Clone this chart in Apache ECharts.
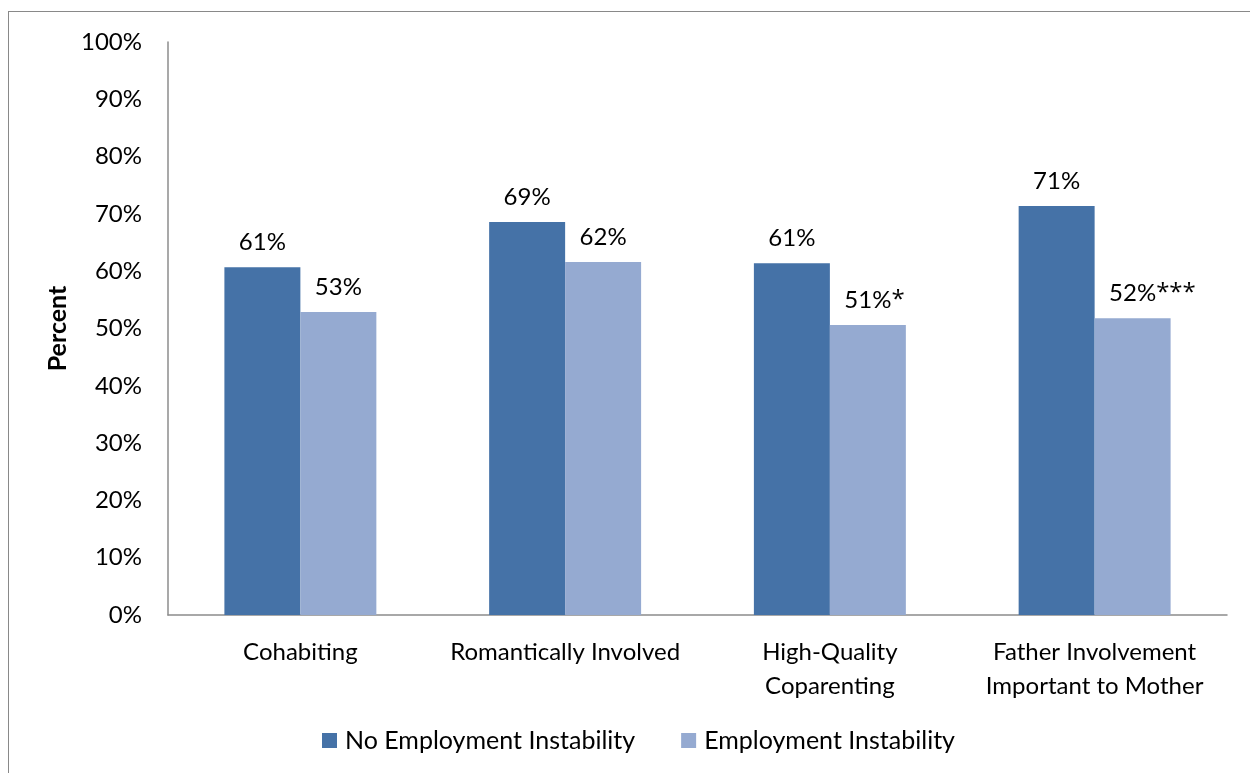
<!DOCTYPE html>
<html><head><meta charset="utf-8">
<script src="https://cdn.jsdelivr.net/npm/echarts@6/dist/echarts.min.js"></script>
<style>
html,body{margin:0;padding:0;background:#fff;}
#frame{position:absolute;left:8px;top:11px;width:1260px;height:780px;border:1.5px solid #898989;box-sizing:border-box;}
#c{position:absolute;left:0;top:0;width:1250px;height:773px;}
</style></head>
<body>
<div id="frame"></div>
<div id="c"></div>
<script>
const categories = ['Cohabiting', 'Romantically Involved', 'High-Quality\nCoparenting', 'Father Involvement\nImportant to Mother'];
const seriesNames = ['No Employment Instability', 'Employment Instability'];
const noInstability = [60.7, 68.6, 61.4, 71.4];
const instability = [52.9, 61.6, 50.6, 51.8];
const noInstabilityLabels = ['61%', '69%', '61%', '71%'];
const instabilityLabels = ['53%', '62%', '51%*', '52%***'];

const font = 'Lato, "Open Sans", sans-serif';
const starFont = '"Open Sans", sans-serif';
const FS = 24;
const ctx = document.createElement('canvas').getContext('2d');
ctx.font = FS + 'px ' + starFont;
function split(lbl) {
  const m = lbl.match(/^(.*?)(\*+)$/);
  return m ? [m[1], m[2]] : [lbl, ''];
}
const chart = echarts.init(document.getElementById('c'));
function mk(vals, labels) {
  return vals.map((v, i) => {
    const [num, stars] = split(labels[i]);
    const shift = stars ? ctx.measureText(stars).width / 2 : 0;
    return {
      value: v,
      label: {
        formatter: stars ? '{n|' + num + '}{s|' + stars + '}' : num,
        offset: [shift, 0]
      }
    };
  });
}
const rich = {
  n: { fontSize: FS, fontFamily: font, color: '#000' },
  s: { fontSize: FS, fontFamily: starFont, color: '#000' }
};
chart.setOption({
  animation: false,
  textStyle: { fontFamily: font },
  grid: { left: 168, right: 23, top: 42, bottom: 158, containLabel: false },
  legend: {
    top: 723, left: 317, itemWidth: 15, itemHeight: 15, itemGap: 46,
    icon: 'rect',
    textStyle: { fontSize: 25, color: '#000', fontFamily: font, padding: [0, 0, 0, 3] },
    data: seriesNames
  },
  xAxis: {
    type: 'category', data: categories,
    axisLine: { lineStyle: { color: '#8c8c8c', width: 1.5 } },
    axisTick: { show: false },
    axisLabel: { interval: 0, fontSize: FS, color: '#000', lineHeight: 34, margin: 20, fontFamily: font }
  },
  yAxis: {
    type: 'value', min: 0, max: 100, interval: 10,
    name: 'Percent', nameLocation: 'middle', nameGap: 96,
    nameTextStyle: { fontSize: 25, fontWeight: 'bold', color: '#000', fontFamily: font },
    axisLine: { show: true, lineStyle: { color: '#8c8c8c', width: 1.5 } },
    axisTick: { show: false },
    splitLine: { show: false },
    axisLabel: { formatter: '{value}%', fontSize: FS, color: '#000', margin: 26, fontFamily: font }
  },
  series: [
    { name: seriesNames[0], type: 'bar', barGap: '0%', barCategoryGap: '42.6%',
      itemStyle: { color: '#4572A7' },
      label: { show: true, position: 'top', distance: 13, fontSize: FS, color: '#000', fontFamily: font, rich: rich },
      data: mk(noInstability, noInstabilityLabels) },
    { name: seriesNames[1], type: 'bar', barGap: '0%', barCategoryGap: '42.6%',
      itemStyle: { color: '#95AAD1' },
      label: { show: true, position: 'top', distance: 13, fontSize: FS, color: '#000', fontFamily: font, rich: rich },
      data: mk(instability, instabilityLabels) }
  ]
});
</script>
</body></html>
